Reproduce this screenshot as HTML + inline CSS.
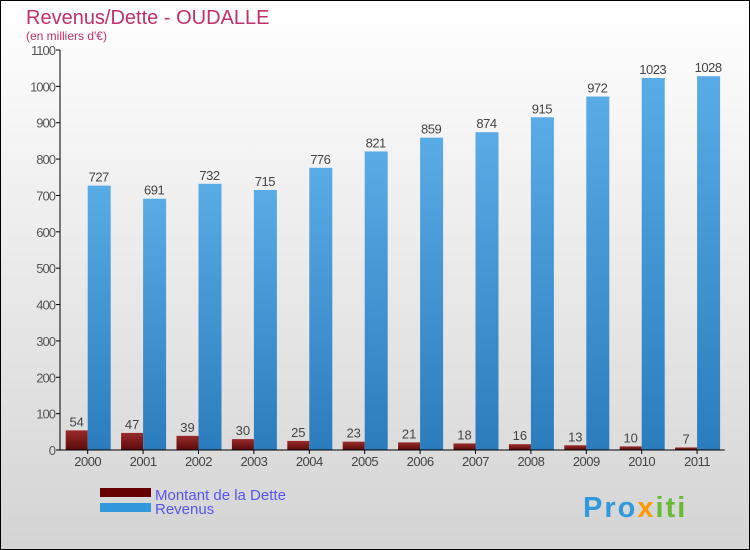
<!DOCTYPE html>
<html><head><meta charset="utf-8"><style>
body{margin:0}
#c{width:750px;height:550px;position:relative;box-sizing:border-box;border:1px solid #000;background:linear-gradient(#fff,#d4d4d4);font-family:"Liberation Sans",sans-serif;overflow:hidden}
</style></head><body>
<div id="c">
<svg id="s" width="748" height="548" viewBox="1 1 748 548" xmlns="http://www.w3.org/2000/svg">
<defs>
<linearGradient id="gb" x1="0" y1="0" x2="0" y2="1"><stop offset="0" stop-color="#5aace6"/><stop offset="1" stop-color="#2a7cbd"/></linearGradient>
<linearGradient id="gr" x1="0" y1="0" x2="0" y2="1"><stop offset="0" stop-color="#9a2b2b"/><stop offset="1" stop-color="#5a0a0a"/></linearGradient>
</defs>
<text x="26" y="24" font-size="20" fill="#c0306a">Revenus/Dette - OUDALLE</text>
<text x="26" y="40" font-size="12" fill="#c0306a">(en milliers d'€)</text>
<g id="g"></g>
<rect x="100" y="488" width="51" height="9" fill="#660000"/>
<rect x="100" y="503" width="51" height="9" fill="#3399dd"/>
<text x="155" y="500" font-size="15" fill="#5555ee">Montant de la Dette</text>
<text x="155" y="514" font-size="15" fill="#5555ee">Revenus</text>
<text x="583" y="517" font-size="29" font-weight="bold" letter-spacing="2"><tspan fill="#3399dd">Pro</tspan><tspan fill="#ff9900">x</tspan><tspan fill="#66bb33">iti</tspan></text>
</svg>
</div>
<script>
const years=["2000","2001","2002","2003","2004","2005","2006","2007","2008","2009","2010","2011"];
const dette=[54,47,39,30,25,23,21,18,16,13,10,7];
const revenus=[727,691,732,715,776,821,859,874,915,972,1023,1028];
const ticks=[0,100,200,300,400,500,600,700,800,900,1000,1100];
const NS="http://www.w3.org/2000/svg";
const g=document.getElementById('g');
const x0=60,step=55.4,yb=450,ymax=1100,ph=400;
const y=v=>yb-v/ymax*ph;
function mk(t,a,txt){const e=document.createElementNS(NS,t);for(const k in a)e.setAttribute(k,a[k]);if(txt!=null)e.textContent=txt;g.appendChild(e);return e;}
ticks.forEach(t=>{
 let l=mk('line',{x1:x0-4,x2:x0,y1:y(t),y2:y(t),stroke:'#000'});
 
 
 let tx=mk('text',{x:x0-5,y:y(t)+5,'font-size':13,fill:'#555','text-anchor':'end','letter-spacing':'-1'},t);
 
 
});
years.forEach((yr,i)=>{
 const c=x0+step*(i+0.5);
 let b1=mk('rect',{x:c-22,y:y(dette[i]),width:22,height:yb-y(dette[i]),fill:'url(#gr)'});
 
 
 let b2=mk('rect',{x:c,y:y(revenus[i]),width:23,height:yb-y(revenus[i]),fill:'url(#gb)'});
 
 
 let t1=mk('text',{x:c-11,y:y(dette[i])-4,'font-size':13,fill:'#444','text-anchor':'middle'},dette[i]);
 
 
 let t2=mk('text',{x:c+11,y:y(revenus[i])-4,'font-size':13,fill:'#444','text-anchor':'middle','letter-spacing':'-0.5'},revenus[i]);
 
 
 let tk=mk('line',{x1:c,x2:c,y1:yb,y2:yb+4,stroke:'#000'});
 
 
 let xl=mk('text',{x:c,y:yb+16,'font-size':13,fill:'#444','text-anchor':'middle','letter-spacing':'-0.5'},yr);
 
 
});
let ya=mk('line',{x1:x0,x2:x0,y1:y(1100),y2:yb,stroke:'#000'});


let xa=mk('line',{x1:x0,x2:x0+step*12,y1:yb,y2:yb,stroke:'#000'});


</script>
</body></html>
